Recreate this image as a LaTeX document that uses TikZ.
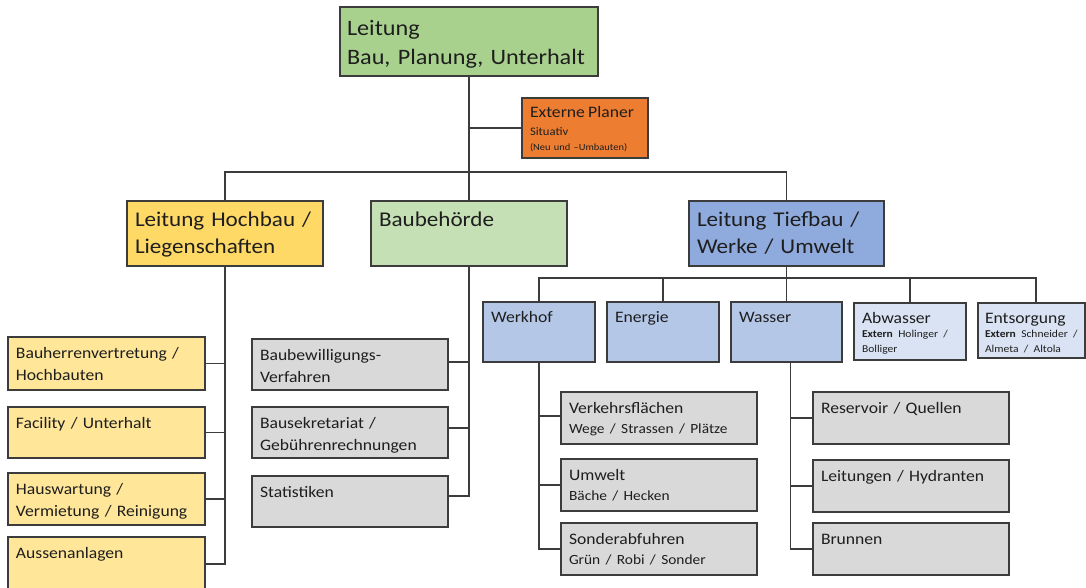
\documentclass[tikz,border=0pt]{standalone}
\usepackage{fontspec}
\setmainfont{Carlito}[FakeStretch=1.1]
\definecolor{linegray}{HTML}{3C3C3C}
\definecolor{textgray}{HTML}{1E1E1E}
\definecolor{topgreen}{HTML}{A9D18E}
\definecolor{behoerdegreen}{HTML}{C5E0B4}
\definecolor{hochgelb}{HTML}{FFD966}
\definecolor{gelb}{HTML}{FFE699}
\definecolor{tiefblau}{HTML}{8FAADC}
\definecolor{blau}{HTML}{B4C7E7}
\definecolor{hellblau}{HTML}{DAE3F3}
\definecolor{grau}{HTML}{D9D9D9}
\definecolor{orangebox}{HTML}{ED7D31}
\hyphenpenalty=10000
\begin{document}
\begin{tikzpicture}[x=1pt, y=-1pt,
    box/.style={draw=linegray, line width=1.3pt, anchor=north west, outer sep=0pt,
      inner xsep=8pt, inner ysep=0pt, align=left, text=textgray},
    chief/.style={box, font=\fontsize{22}{29}\selectfont, text height=29pt},
    head/.style={box, font=\fontsize{21}{27}\selectfont, text height=25.5pt},
    unit/.style={box, font=\fontsize{16}{22}\selectfont, text height=21pt},
    link/.style={draw=linegray, line width=1.3pt}]
    \path[fill=white, use as bounding box] (0,0) rectangle (1086,588);

    \node[chief, fill=topgreen, inner xsep=7pt, text width=244pt, text depth=40pt] (leitung) at (340,7) {Leitung\\Bau, Planung, Unterhalt};
    \node[box, fill=orangebox, text width=110pt, text height=20pt, text depth=40pt] (extern) at (522,98)
        {{\fontsize{16}{20}\selectfont Externe Planer\par}{\fontsize{11.5}{17.5}\selectfont Situativ\par}{\fontsize{9.5}{15}\selectfont (Neu und –Umbauten)\par}};

    \node[head, fill=hochgelb, text width=180pt, text depth=39.5pt] (hochbau) at (127,201) {Leitung Hochbau /\\Liegenschaften};
    \node[head, fill=behoerdegreen, text width=180pt, text depth=39.5pt] (behoerde) at (371,201) {Baubehörde};
    \node[head, fill=tiefblau, text width=179pt, text depth=39.5pt] (tiefbau) at (689,201) {Leitung Tiefbau /\\Werke / Umwelt};

    \node[unit, fill=blau, text width=96pt, text height=20.5pt, text depth=39.5pt] (werkhof) at (483,302) {Werkhof};
    \node[unit, fill=blau, text width=96pt, text height=20.5pt, text depth=39.5pt] (energie) at (607,302) {Energie};
    \node[unit, fill=blau, text width=95pt, text height=20.5pt, text depth=39.5pt] (wasser) at (731,302) {Wasser};
    \node[unit, fill=hellblau, text width=96pt, text height=20pt, text depth=37pt] (abwasser) at (854,303)
        {Abwasser\par{\fontsize{10.5}{14.5}\selectfont\textbf{Extern} Holinger /\\Bolliger\par}};
    \node[unit, fill=hellblau, inner xsep=7pt, text width=93pt, text height=20pt, text depth=35pt] (entsorgung) at (978,303)
        {Entsorgung\par{\fontsize{10.5}{14.5}\selectfont\textbf{Extern} Schneider /\\Almeta / Altola\par}};

    \node[unit, fill=gelb, text width=181pt, text depth=32pt] (bauherr) at (8,337) {Bauherrenvertretung /\\Hochbauten};
    \node[unit, fill=gelb, text width=181pt, text depth=30pt] (facility) at (8,407) {Facility / Unterhalt};
    \node[unit, fill=gelb, text width=181pt, text depth=31pt] (hauswart) at (8,473) {Hauswartung /\\Vermietung / Reinigung};
    \node[unit, fill=gelb, text width=181pt, text depth=33pt] (aussen) at (8,537) {Aussenanlagen};

    \node[unit, fill=grau, text width=180pt, text depth=30pt] (bewilligung) at (252,339) {Baubewilligungs-\\Verfahren};
    \node[unit, fill=grau, text width=180pt, text depth=30pt] (sekretariat) at (252,407) {Bausekretariat /\\Gebührenrechnungen};
    \node[unit, fill=grau, text width=180pt, text depth=30pt] (statistik) at (252,476) {Statistiken};

    \node[unit, fill=grau, text width=180pt, text depth=31pt] (verkehr) at (561,392)
        {Verkehrsflächen\par{\fontsize{14}{20}\selectfont Wege / Strassen / Plätze\par}};
    \node[unit, fill=grau, text width=180pt, text depth=31pt] (umwelt) at (561,459)
        {Umwelt\par{\fontsize{14}{20}\selectfont Bäche / Hecken\par}};
    \node[unit, fill=grau, text width=180pt, text depth=31pt] (sonder) at (561,523)
        {Sonderabfuhren\par{\fontsize{14}{20}\selectfont Grün / Robi / Sonder\par}};

    \node[unit, fill=grau, text width=180pt, text depth=31pt] (reservoir) at (813,392) {Reservoir / Quellen};
    \node[unit, fill=grau, text width=180pt, text depth=31pt] (leitungen) at (813,460) {Leitungen / Hydranten};
    \node[unit, fill=grau, text width=180pt, text depth=31pt] (brunnen) at (813,523) {Brunnen};

    \coordinate (hbus) at (0,172);
    \coordinate (tbus) at (0,278);
    \coordinate (entin) at ([xshift=4.5pt]entsorgung.north);
    \coordinate (wasin) at ([xshift=4pt]wasser.south);

    \draw[link] (leitung.south) -- (behoerde.north);
    \draw[link] (extern.west) -- (extern.west -| leitung.south);
    \draw[link] (hochbau.north) -- (hochbau.north |- hbus) -- (tiefbau.north |- hbus) -- (tiefbau.north);

    \draw[link] (tiefbau.south) -- (wasser.north);
    \draw[link] (werkhof.north) -- (werkhof.north |- tbus) -- (entin |- tbus) -- (entin);
    \foreach \n in {energie, abwasser}
        \draw[link] (\n.north) -- (\n.north |- tbus);

    \draw[link] (hochbau.south) |- (aussen.east);
    \foreach \n in {bauherr, facility, hauswart}
        \draw[link] (\n.east) -| (hochbau.south);

    \draw[link] (behoerde.south) |- ([yshift=5.5pt]statistik.east);
    \draw[link] ([yshift=2.5pt]bewilligung.east) -| (behoerde.south);
    \draw[link] ([yshift=4.5pt]sekretariat.east) -| (behoerde.south);

    \draw[link] (werkhof.south) |- (sonder.west);
    \draw[link] ([yshift=2pt]verkehr.west) -| (werkhof.south);
    \draw[link] (umwelt.west) -| (werkhof.south);

    \draw[link] (wasin) |- (brunnen.west);
    \foreach \n in {reservoir, leitungen}
        \draw[link] (\n.west) -| (wasin);
\end{tikzpicture}
\end{document}
